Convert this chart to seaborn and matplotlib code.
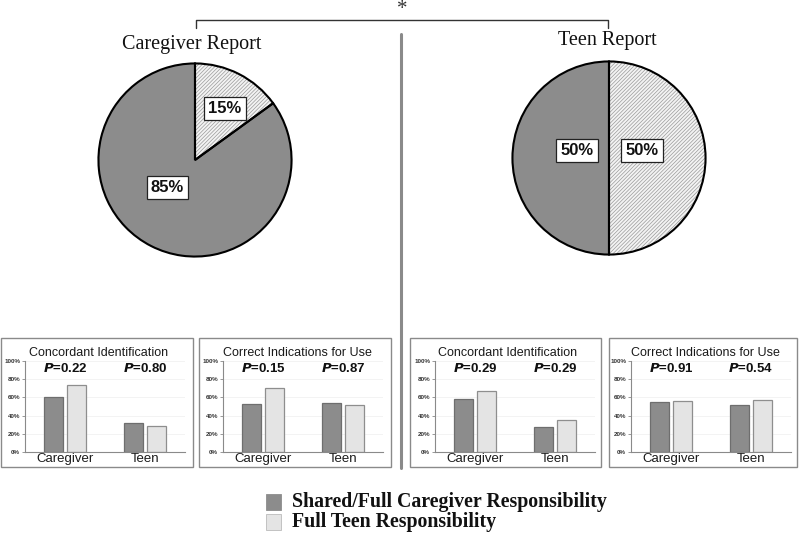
import matplotlib
matplotlib.use("Agg")
import matplotlib.pyplot as plt
import seaborn as sns
import pandas as pd
from matplotlib.patches import Rectangle
from matplotlib.lines import Line2D

# ---------------- data ----------------
report_titles = ["Caregiver Report", "Teen Report"]
legend_labels = ["Shared/Full Caregiver Responsibility", "Full Teen Responsibility"]
caregiver_report_pct = [85, 15]   # [shared/full caregiver, full teen]
teen_report_pct = [50, 50]

panel_titles = ["Concordant Identification", "Correct Indications for Use",
                "Concordant Identification", "Correct Indications for Use"]
categories = ["Caregiver", "Teen"]
shared_vals = [[60, 32], [53, 54], [58, 27], [55, 52]]
fullteen_vals = [[74, 29], [70, 52], [67, 35], [56, 57]]
p_values = [["0.22", "0.80"], ["0.15", "0.87"], ["0.29", "0.29"], ["0.91", "0.54"]]
y_ticks = [0, 20, 40, 60, 80, 100]

# ---------------- style ----------------
sns.set_style("white")
plt.rcParams["font.family"] = ["Liberation Sans", "DejaVu Sans"]
plt.rcParams["hatch.linewidth"] = 0.5

DARK = "#8c8c8c"
LIGHT = "#e4e4e4"
PIE_LIGHT = "#f3f3f3"
HATCH_C = "#9a9a9a"

W, H = 800, 539
fig = plt.figure(figsize=(W / 100, H / 100), dpi=100)
fig.patch.set_facecolor("white")


def rect(l, t, r, b):
    return [l / W, 1 - b / H, (r - l) / W, (b - t) / H]


def fx(x):
    return x / W


def fy(y):
    return 1 - y / H


# ---------------- pies ----------------
def draw_pie(center, pct, title, title_pos, label_pos):
    cx, cy = center
    ax = fig.add_axes(rect(cx - 98, cy - 98, cx + 98, cy + 98))
    vals_cw = [pct[1], pct[0]]  # clockwise from 12 o'clock: full teen, then shared
    wedges, _ = ax.pie(vals_cw, colors=[PIE_LIGHT, DARK], startangle=90,
                       counterclock=False, radius=1,
                       wedgeprops=dict(linewidth=0, edgecolor=HATCH_C))
    wedges[0].set_hatch("/////////")
    ax.pie(vals_cw, colors=["none", "none"], startangle=90, counterclock=False,
           radius=1, wedgeprops=dict(linewidth=1.5, edgecolor="black", fill=False))
    ax.set_xlim(-1.015, 1.015)
    ax.set_ylim(-1.015, 1.015)
    ax.set_aspect("equal")
    ax.axis("off")
    for v, (lx, ly) in zip(pct, label_pos):
        ax.text(lx, ly, f"{v}%", ha="center", va="center", fontsize=12,
                fontweight="bold", color="#111111",
                bbox=dict(boxstyle="square,pad=0.25", fc="white", ec="#222222", lw=0.9))
    fig.text(fx(title_pos[0]), fy(title_pos[1]), title, ha="center", va="center",
             fontsize=14.5, family="Liberation Serif", color="#111111")


draw_pie((195, 160), caregiver_report_pct, report_titles[0], (192, 44),
         [(-0.285, -0.285), (0.31, 0.53)])
draw_pie((609, 158), teen_report_pct, report_titles[1], (607, 40),
         [(-0.33, 0.08), (0.34, 0.08)])

# bracket + asterisk + divider
fig.add_artist(Line2D([fx(196), fx(196), fx(608), fx(608)],
                      [fy(28), fy(20), fy(20), fy(28)],
                      transform=fig.transFigure, color="#333333", lw=1))
fig.text(fx(402), fy(9), "*", ha="center", va="center", fontsize=15,
         family="Liberation Serif", color="#333333")
fig.add_artist(Line2D([fx(401), fx(401)], [fy(34), fy(468)],
                      transform=fig.transFigure, color="#8a8a8a", lw=2.2))

# ---------------- small bar panels ----------------
boxes = [(1, 338, 193, 467), (199, 338, 391, 467), (410, 338, 601, 467), (609, 338, 797, 467)]
axis_left = [25, 223, 435, 631]

for i in range(4):
    bl, bt, br, bb = boxes[i]
    fig.add_artist(Rectangle((fx(bl), fy(bb)), (br - bl) / W, (bb - bt) / H,
                             transform=fig.transFigure, fill=False,
                             ec="#8a8a8a", lw=1))
    fig.text(fx((bl + br) / 2 + 2), fy(353), panel_titles[i], ha="center",
             va="center", fontsize=9, color="#1a1a1a")

    al = axis_left[i]
    ax = fig.add_axes(rect(al, 361, al + 160, 452))
    df = pd.DataFrame({
        "category": categories * 2,
        "value": shared_vals[i] + fullteen_vals[i],
        "group": [legend_labels[0]] * 2 + [legend_labels[1]] * 2,
    })
    sns.barplot(data=df, x="category", y="value", hue="group",
                hue_order=legend_labels, palette=[DARK, LIGHT],
                width=0.58, gap=0.2, errorbar=None, legend=False, ax=ax,
                linewidth=0.9)
    for c, ec in zip(ax.containers, ["#6e6e6e", "#8e8e8e"]):
        for p in c:
            p.set_edgecolor(ec)
    ax.set_xlim(-0.5, 1.5)
    ax.set_ylim(0, 100)
    ax.set_yticks(y_ticks)
    ax.set_yticklabels([f"{t}%" for t in y_ticks], fontsize=4.5,
                       fontweight="bold", color="#333333")
    ax.tick_params(axis="y", length=2, width=0.6, color="#888888", pad=1.5, left=True)
    ax.tick_params(axis="x", length=0, pad=1, labelsize=9.5, labelcolor="#1a1a1a")
    ax.set_xlabel("")
    ax.set_ylabel("")
    ax.grid(axis="y", color="#efefef", lw=0.5)
    ax.set_axisbelow(True)
    for s in ["top", "right"]:
        ax.spines[s].set_visible(False)
    for s in ["left", "bottom"]:
        ax.spines[s].set_color("#8a8a8a")
        ax.spines[s].set_linewidth(0.8)
    for j in range(2):
        ax.text(j, 92, f"$\\bfit{{P}}$=" + p_values[i][j], ha="center", va="center",
                fontsize=9.5, fontweight="bold", color="#111111")

# ---------------- legend ----------------
for k, (lab, col) in enumerate(zip(legend_labels, [DARK, LIGHT])):
    yc = 502 + k * 20
    fig.add_artist(Rectangle((fx(266), fy(yc + 8)), 15 / W, 16 / H,
                             transform=fig.transFigure, fc=col,
                             ec="#bbbbbb" if k else DARK, lw=0.6))
    fig.text(fx(292), fy(yc), lab, ha="left", va="center", fontsize=14.3,
             fontweight="bold", family="Liberation Serif", color="#111111")

fig.savefig("out.png", dpi=100, facecolor="white")
